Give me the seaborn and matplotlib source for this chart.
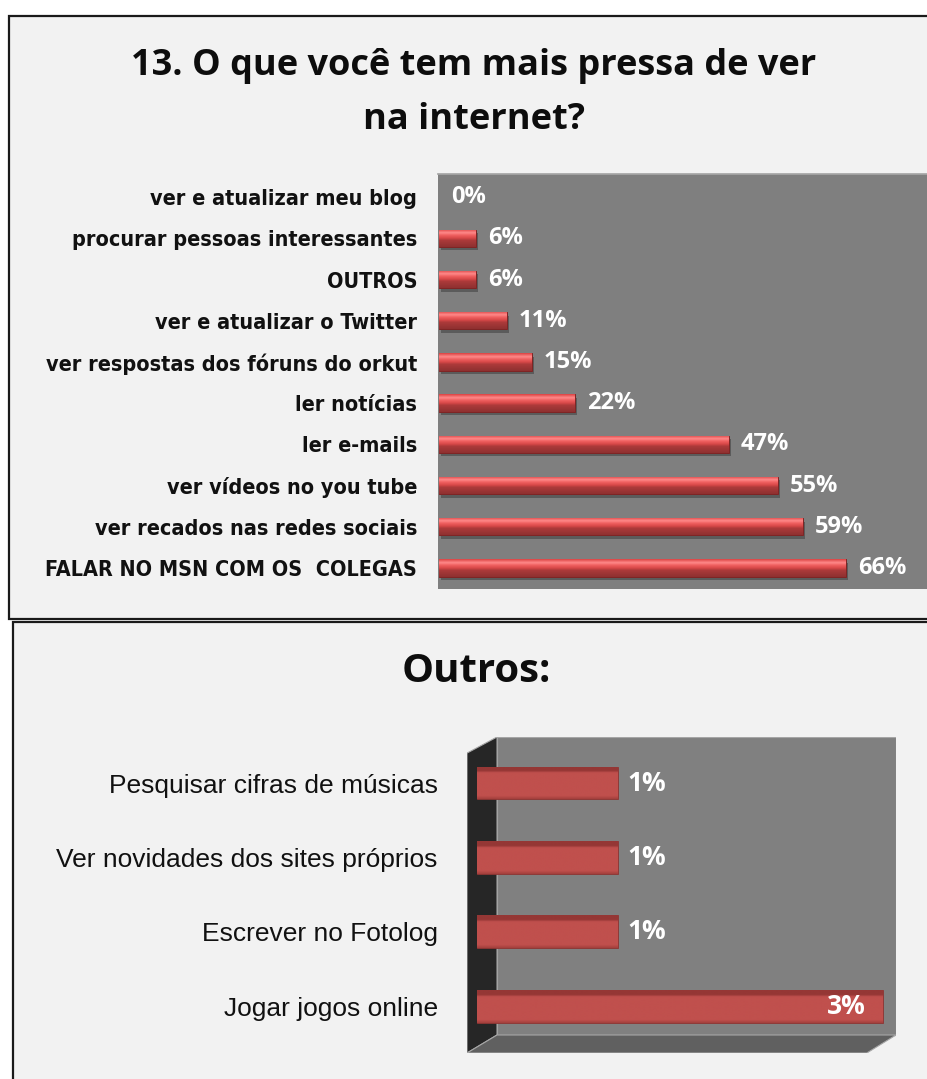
import numpy as np
import pandas as pd
import matplotlib
matplotlib.use("Agg")
import matplotlib.pyplot as plt
from matplotlib.patches import Rectangle, Polygon
from matplotlib.colors import LinearSegmentedColormap
import matplotlib.patheffects as pe
import seaborn as sns

# ---------------- data ----------------
top_categories = [
    "ver e atualizar meu blog",
    "procurar pessoas interessantes",
    "OUTROS",
    "ver e atualizar o Twitter",
    "ver respostas dos fóruns do orkut",
    "ler notícias",
    "ler e-mails",
    "ver vídeos no you tube",
    "ver recados nas redes sociais",
    "FALAR NO MSN COM OS  COLEGAS",
]
top_values = [0, 6, 6, 11, 15, 22, 47, 55, 59, 66]

bottom_categories = [
    "Pesquisar cifras de músicas",
    "Ver novidades dos sites próprios",
    "Escrever no Fotolog",
    "Jogar jogos online",
]
bottom_values = [1.04, 1.04, 1.04, 3.0]

title_top = "13. O que você tem mais pressa de ver\nna internet?"
title_bottom = "Outros:"

# ---------------- setup ----------------
sns.set_theme(style="white")
plt.rcParams["font.family"] = ["DejaVu Sans"]

W, H = 928, 1079
fig = plt.figure(figsize=(W / 100, H / 100), dpi=100)
fig.patch.set_facecolor("white")


def fx(x):
    return x / W


def fy(y):
    return 1 - y / H


# panel frames
fig.add_artist(Rectangle((fx(9), fy(619)), fx(940 - 9), (619 - 16) / H,
                         transform=fig.transFigure, facecolor="#f2f2f2",
                         edgecolor="#1a1a1a", linewidth=1.6, zorder=0))
fig.add_artist(Rectangle((fx(13), fy(1090)), fx(940 - 13), (1090 - 622) / H,
                         transform=fig.transFigure, facecolor="#f2f2f2",
                         edgecolor="#1a1a1a", linewidth=1.6, zorder=0))

value_font = ["Open Sans", "DejaVu Sans"]


def gradient_fill(ax, patches, colors, stops, shadow=False):
    cmap = LinearSegmentedColormap.from_list("g", list(zip(stops, colors)))
    grad = np.linspace(0, 1, 256).reshape(-1, 1)
    for p in patches:
        x0, y0 = p.get_x(), p.get_y()
        w, h = p.get_width(), p.get_height()
        if w <= 0:
            p.set_visible(False)
            continue
        if shadow:
            p.set_path_effects([pe.SimplePatchShadow(offset=(1.5, -2.5),
                                                     shadow_rgbFace="black",
                                                     alpha=0.28),
                                pe.Normal()])
        im = ax.imshow(grad, cmap=cmap, aspect="auto",
                       extent=(x0, x0 + w, y0 + h, y0), zorder=p.get_zorder() + 0.1,
                       interpolation="bilinear")
        im.set_clip_path(p)


# ---------------- top chart ----------------
df_top = pd.DataFrame({"cat": top_categories, "val": top_values})
ax1 = fig.add_axes([fx(438), fy(589), (W - 438) / W, (589 - 174) / H])
sns.barplot(data=df_top, y="cat", x="val", orient="h", ax=ax1,
            color="#cc3b3b", width=0.42, edgecolor="#7e2424", linewidth=0.7,
            saturation=1)
ax1.set_facecolor("#7f7f7f")
ax1.set_xlim(-0.2, 79.3)
ax1.set_ylim(9.51, -0.56)
ax1.set_xlabel("")
ax1.set_ylabel("")
ax1.set_xticks([])
for s in ax1.spines.values():
    s.set_visible(False)
ax1.spines["top"].set_visible(True)
ax1.spines["top"].set_color("#a6a6a6")
ax1.tick_params(axis="y", length=0, pad=15)
for t in ax1.get_yticklabels():
    t.set_fontfamily(["DejaVu Sans"])
    t.set_fontstretch("condensed")
    t.set_fontweight("bold")
    t.set_fontsize(15.5)
    t.set_color("#111111")
gradient_fill(ax1, ax1.containers[0].patches,
              ["#d94040", "#ff8a8a", "#f06060", "#d84848", "#ac3a3a", "#8e3030"],
              [0.0, 0.2, 0.34, 0.5, 0.62, 1.0], shadow=True)
ax1.bar_label(ax1.containers[0], labels=[f"{v}%" for v in top_values],
              padding=8.5, color="white", fontsize=17, fontweight="bold",
              family=value_font)

fig.text(fx(474), fy(93), title_top, ha="center", va="center",
         fontsize=26, fontweight="bold", family=value_font, color="#0d0d0d",
         linespacing=1.65)

# ---------------- bottom chart ----------------
df_bot = pd.DataFrame({"cat": bottom_categories, "val": bottom_values})
ax2 = fig.add_axes([fx(467), fy(1053), (896 - 467) / W, (1053 - 737) / H])
ax2.set_facecolor("none")
for s in ax2.spines.values():
    s.set_visible(False)
# 3D box walls (decoration in axes coordinates)
ax2.add_patch(Polygon([(0.070, 0.057), (1.0, 0.057), (1.0, 1.0), (0.070, 1.0)],
                      closed=True, transform=ax2.transAxes, facecolor="#808080",
                      edgecolor="#a6a6a6", linewidth=0.8, zorder=0))
ax2.add_patch(Polygon([(0, 0), (0, 0.949), (0.070, 1.0), (0.070, 0.057)],
                      closed=True, transform=ax2.transAxes, facecolor="#262626",
                      edgecolor="#a6a6a6", linewidth=0.8, zorder=0.1))
ax2.add_patch(Polygon([(0, 0), (0.070, 0.057), (1.0, 0.057), (0.932, 0)],
                      closed=True, transform=ax2.transAxes, facecolor="#606060",
                      edgecolor="#a6a6a6", linewidth=0.8, zorder=0.1))
sns.barplot(data=df_bot, y="cat", x="val", orient="h", ax=ax2,
            color="#c0504d", width=0.44, edgecolor="#8a3331", linewidth=0.6,
            saturation=1)
ax2.set_xlim(-0.074, 3.097)
ax2.set_ylim(3.63, -0.62)
ax2.set_xlabel("")
ax2.set_ylabel("")
ax2.set_xticks([])
ax2.tick_params(axis="y", length=0, pad=21)
for t in ax2.get_yticklabels():
    t.set_fontfamily(["Liberation Sans", "DejaVu Sans"])
    t.set_fontsize(19)
    t.set_color("#111111")
gradient_fill(ax2, ax2.containers[0].patches,
              ["#953735", "#953735", "#c0504d", "#c0504d", "#a23f3c"],
              [0.0, 0.14, 0.2, 0.9, 1.0])
lab_out = [f"{v:.0f}%" if v < 2 else "" for v in bottom_values]
lab_in = [f"{v:.0f}%" if v >= 2 else "" for v in bottom_values]
ax2.bar_label(ax2.containers[0], labels=lab_out, padding=7, color="white",
              fontsize=19, fontweight="bold", family=value_font)
ax2.bar_label(ax2.containers[0], labels=lab_in, padding=-40, color="white",
              fontsize=19, fontweight="bold", family=value_font)

fig.text(fx(476), fy(671), title_bottom, ha="center", va="center",
         fontsize=29, fontweight="bold", family=value_font, color="#0d0d0d")

fig.savefig("out.png", dpi=100, facecolor=fig.get_facecolor())
